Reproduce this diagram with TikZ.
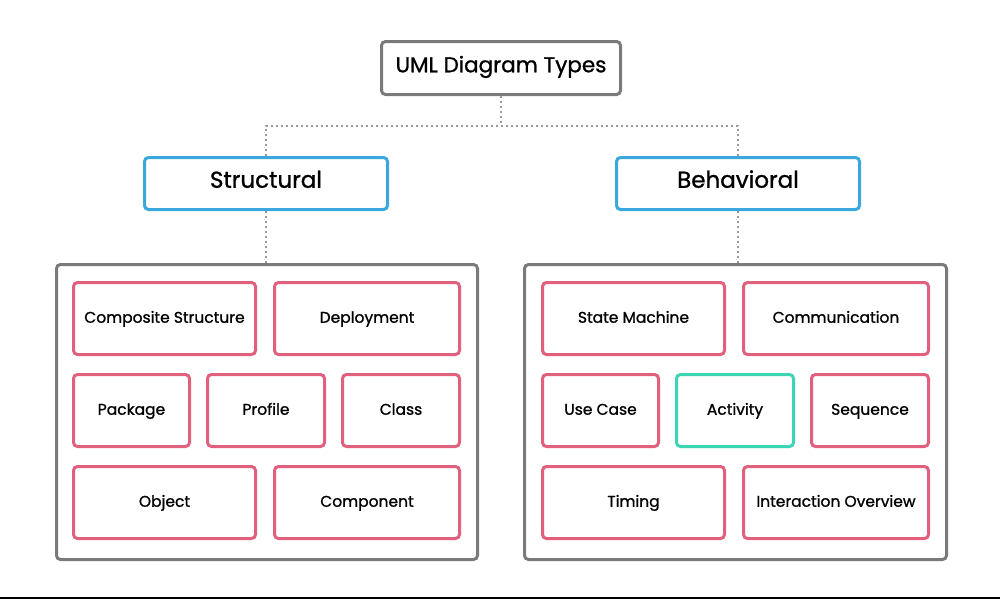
\documentclass[tikz,border=0pt]{standalone}
\usepackage{fontspec}
\setmainfont{Poppins}[FakeBold=1.1]
\definecolor{pinkc}{HTML}{E0607E}
\definecolor{bluec}{HTML}{3AA8DC}
\definecolor{tealc}{HTML}{3CD6B4}
\definecolor{grayc}{HTML}{7A7A7A}
\definecolor{dotc}{HTML}{9A9A9A}
\tikzset{
  box/.style={draw, line width=3pt, rounded corners=4pt, fill=white, inner sep=0pt, anchor=north west, text height=0.85em, text depth=0pt},
  leaf/.style={box, draw=pinkc, font=\fontsize{15.5}{18}\selectfont},
  act/.style={box, draw=tealc, font=\fontsize{15.5}{18}\selectfont},
  cat/.style={box, draw=bluec, font=\fontsize{23}{26}\selectfont},
  outer/.style={box, draw=grayc},
  link/.style={draw=dotc, line width=2pt, dash pattern=on 2pt off 3pt}
}
\begin{document}
\begin{tikzpicture}[x=1pt,y=-1pt]
\useasboundingbox (0,0) rectangle (1000,600);
\fill[white] (0,0) rectangle (1000,600);
% top
\node[box, draw=grayc, minimum width=239pt, minimum height=53pt, font=\fontsize{21.5}{24}\selectfont] (top) at (380,40) {UML Diagram Types};
\node[cat, minimum width=243pt, minimum height=52pt] (str) at (143,156) {Structural};
\node[cat, minimum width=243pt, minimum height=52pt] (beh) at (615,156) {Behavioral};
\node[outer, minimum width=421pt, minimum height=295pt] (lo) at (55,263) {};
\node[outer, minimum width=422pt, minimum height=295pt] (ro) at (523,263) {};
\coordinate (jn) at (top.south |- 0,126);
% connectors
\draw[link] (top.south) -- (jn);
\draw[link] (str.north) |- (jn);
\draw[link] (beh.north) |- (jn);
\draw[link] (str.south) -- (str.south |- lo.north);
\draw[link] (beh.south) -- (beh.south |- ro.north);
% left leaves
\node[leaf, minimum width=182pt, minimum height=72pt] (cs) at (72,281) {Composite Structure};
\node[leaf, minimum width=185pt, minimum height=72pt] (dep) at (273,281) {Deployment};
\node[leaf, minimum width=116pt, minimum height=72pt] (pkg) at (72,373) {Package};
\node[leaf, minimum width=117pt, minimum height=72pt] (prof) at (206,373) {Profile};
\node[leaf, minimum width=117pt, minimum height=72pt] (cls) at (341,373) {Class};
\node[leaf, minimum width=182pt, minimum height=72pt] (obj) at (72,465) {Object};
\node[leaf, minimum width=185pt, minimum height=72pt] (comp) at (273,465) {Component};
% right leaves
\node[leaf, minimum width=182pt, minimum height=72pt] (sm) at (541,281) {State Machine};
\node[leaf, minimum width=185pt, minimum height=72pt] (comm) at (742,281) {Communication};
\node[leaf, minimum width=116pt, minimum height=72pt] (uc) at (541,373) {Use Case};
\node[act, minimum width=117pt, minimum height=72pt] (actv) at (675,373) {Activity};
\node[leaf, minimum width=117pt, minimum height=72pt] (seq) at (810,373) {Sequence};
\node[leaf, minimum width=182pt, minimum height=72pt] (tim) at (541,465) {Timing};
\node[leaf, minimum width=185pt, minimum height=72pt] (io) at (742,465) {Interaction Overview};
% bottom rule
\coordinate (bl) at (0,598);
\coordinate (br) at (1000,598);
\draw[line width=2pt, black] (bl) -- (br);
\end{tikzpicture}
\end{document}
